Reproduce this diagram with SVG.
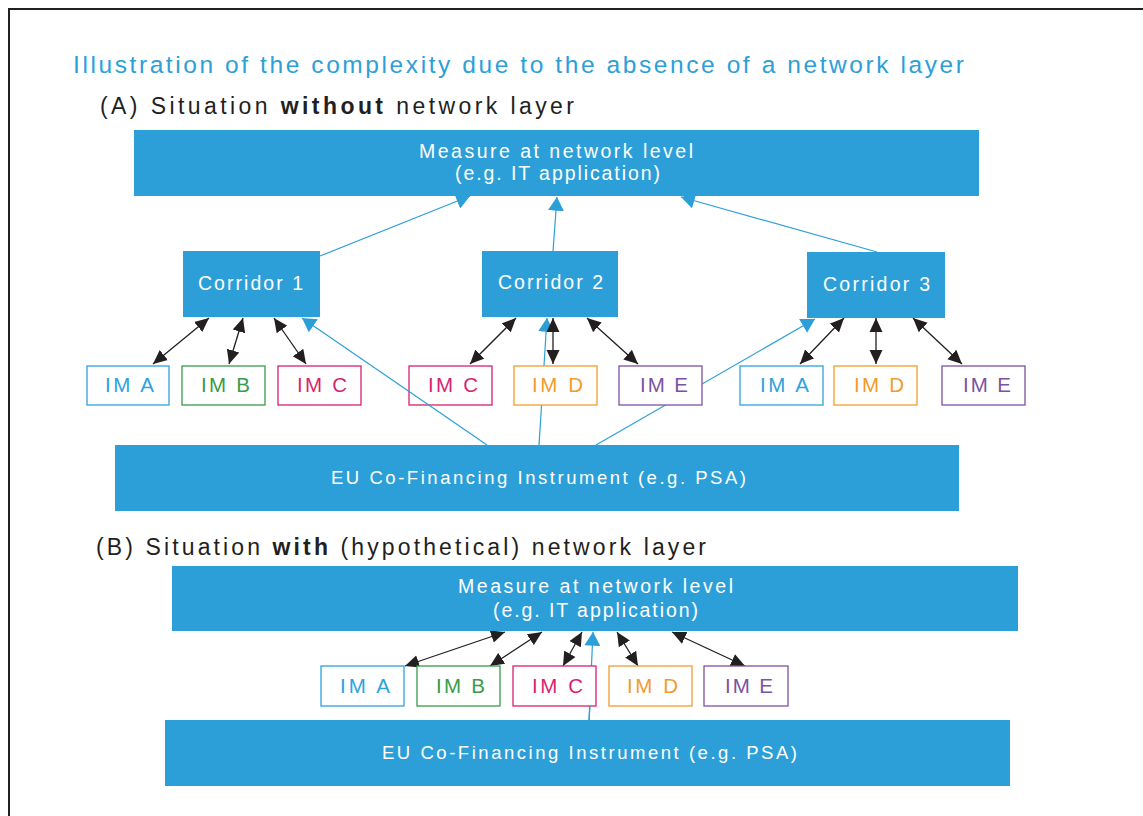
<svg xmlns="http://www.w3.org/2000/svg" width="1143" height="816" viewBox="0 0 1143 816">
<defs>
<style>
text{font-family:"Liberation Sans",Arial,sans-serif}
.blk{fill:#2c9fd9}
.wt{fill:#fff;font-size:19.5px}
.eu{fill:#fff;font-size:18.5px}
.im{fill:#fff;stroke-width:1.3}
.iml{font-size:20.5px}
.hd{fill:#231f20;font-size:23px}
.cb{stroke:#2c9fd9;stroke-width:1.2;fill:none;marker-end:url(#ab)}
.ck{stroke:#231f20;stroke-width:1.3;fill:none;marker-start:url(#ak);marker-end:url(#ak)}
.ra{stroke:#2ca3dd}.ta{fill:#2ca3dd}
.rb{stroke:#3a9b48}.tb{fill:#3a9b48}
.rc{stroke:#d91f72}.tc{fill:#d91f72}
.rd{stroke:#f39b2b}.td{fill:#f39b2b}
.re{stroke:#7b52a3}.te{fill:#7b52a3}
</style>
<marker id="ab" markerUnits="userSpaceOnUse" markerWidth="14" markerHeight="16" refX="12" refY="7" orient="auto" viewBox="0 0 12 14"><path d="M0,0L12,7L0,14z" fill="#2c9fd9"/></marker>
<marker id="ak" markerUnits="userSpaceOnUse" markerWidth="14" markerHeight="14" refX="13" refY="6" orient="auto-start-reverse" viewBox="0 0 13 12"><path d="M0,0L13,6L0,12z" fill="#231f20"/></marker>
</defs>
<rect width="1143" height="816" fill="#fff"/>
<path d="M9,816V9H1143" fill="none" stroke="#231f20" stroke-width="2"/>
<text x="73" y="73" font-size="24.5" fill="#2c9fd9" textLength="891" lengthAdjust="spacing">Illustration of the complexity due to the absence of a network layer</text>
<text class="hd" x="100" y="114" textLength="474" lengthAdjust="spacing">(A) Situation <tspan font-weight="bold">without</tspan> network layer</text>
<text class="hd" x="96" y="555" textLength="610" lengthAdjust="spacing">(B) Situation <tspan font-weight="bold">with</tspan> (hypothetical) network layer</text>
<g id="connectors">
<path class="cb" d="M320,256L470,196"/>
<path class="cb" d="M553,251L557,197"/>
<path class="cb" d="M877,252L681,197"/>
<path class="cb" d="M539,445L547,318"/>
<path class="cb" d="M596,445L815,319"/>
<path class="ck" d="M209,318L153,364"/>
<path class="ck" d="M243,318L229,364"/>
<path class="ck" d="M274,318L306,364"/>
<path class="ck" d="M516,318L470,364"/>
<path class="ck" d="M553,318L553,364"/>
<path class="ck" d="M587,318L638,364"/>
<path class="ck" d="M844,318L800,364"/>
<path class="ck" d="M876,318L876,364"/>
<path class="ck" d="M913,318L962,364"/>
<path class="ck" d="M505,632L405,666"/>
<path class="ck" d="M542,632L490,666"/>
<path class="ck" d="M582,632L563,666"/>
<path class="ck" d="M617,632L638,666"/>
<path class="ck" d="M672,632L745,666"/>
<path class="cb" d="M589,720L593,632"/>
</g>
<g id="measureA"><rect class="blk" x="134" y="130" width="845" height="66"/><text class="wt" x="419" y="158" textLength="274" lengthAdjust="spacing">Measure at network level</text><text class="wt" x="455" y="180" textLength="205" lengthAdjust="spacing">(e.g. IT application)</text></g>
<g id="corridor1"><rect class="blk" x="183" y="251" width="137" height="66"/><text class="wt" x="198" y="290" textLength="105" lengthAdjust="spacing">Corridor 1</text></g>
<g id="corridor2"><rect class="blk" x="482" y="251" width="136" height="66"/><text class="wt" x="498" y="289" textLength="105" lengthAdjust="spacing">Corridor 2</text></g>
<g id="corridor3"><rect class="blk" x="807" y="252" width="138" height="66"/><text class="wt" x="823" y="291" textLength="107" lengthAdjust="spacing">Corridor 3</text></g>
<g id="a_imA"><rect class="im ra" x="87" y="366" width="82" height="39"/><text class="iml ta" x="105" y="392" textLength="49" lengthAdjust="spacing">IM A</text></g>
<g id="a_imB"><rect class="im rb" x="182" y="366" width="83" height="39"/><text class="iml tb" x="201" y="392" textLength="49" lengthAdjust="spacing">IM B</text></g>
<g id="a_imC1"><rect class="im rc" x="278" y="366" width="83" height="39"/><text class="iml tc" x="297" y="392" textLength="50" lengthAdjust="spacing">IM C</text></g>
<g id="a_imC2"><rect class="im rc" x="409" y="366" width="83" height="39"/><text class="iml tc" x="428" y="392" textLength="50" lengthAdjust="spacing">IM C</text></g>
<g id="a_imD1"><rect class="im rd" x="514" y="366" width="83" height="39"/><text class="iml td" x="532" y="392" textLength="51" lengthAdjust="spacing">IM D</text></g>
<g id="a_imE1"><rect class="im re" x="619" y="366" width="83" height="39"/><text class="iml te" x="640" y="392" textLength="48" lengthAdjust="spacing">IM E</text></g>
<g id="a_imA2"><rect class="im ra" x="740" y="366" width="83" height="39"/><text class="iml ta" x="760" y="392" textLength="49" lengthAdjust="spacing">IM A</text></g>
<g id="a_imD2"><rect class="im rd" x="834" y="366" width="83" height="39"/><text class="iml td" x="854" y="392" textLength="50" lengthAdjust="spacing">IM D</text></g>
<g id="a_imE2"><rect class="im re" x="942" y="366" width="83" height="39"/><text class="iml te" x="963" y="392" textLength="48" lengthAdjust="spacing">IM E</text></g>
<path class="cb" d="M487,445L302,318"/>
<g id="euA"><rect class="blk" x="115" y="445" width="844" height="66"/><text class="eu" x="331" y="484" textLength="415" lengthAdjust="spacing">EU Co-Financing Instrument (e.g. PSA)</text></g>
<g id="measureB"><rect class="blk" x="172" y="566" width="846" height="65"/><text class="wt" x="458" y="593" textLength="275" lengthAdjust="spacing">Measure at network level</text><text class="wt" x="493" y="617" textLength="205" lengthAdjust="spacing">(e.g. IT application)</text></g>
<g id="b_imA"><rect class="im ra" x="321" y="666" width="83" height="40"/><text class="iml ta" x="340" y="693" textLength="50" lengthAdjust="spacing">IM A</text></g>
<g id="b_imB"><rect class="im rb" x="417" y="666" width="83" height="40"/><text class="iml tb" x="436" y="693" textLength="49" lengthAdjust="spacing">IM B</text></g>
<g id="b_imC"><rect class="im rc" x="513" y="666" width="83" height="40"/><text class="iml tc" x="532" y="693" textLength="51" lengthAdjust="spacing">IM C</text></g>
<g id="b_imD"><rect class="im rd" x="609" y="666" width="83" height="40"/><text class="iml td" x="627" y="693" textLength="51" lengthAdjust="spacing">IM D</text></g>
<g id="b_imE"><rect class="im re" x="704" y="666" width="84" height="40"/><text class="iml te" x="725" y="693" textLength="48" lengthAdjust="spacing">IM E</text></g>
<path d="M589,720L590,706" stroke="#2c9fd9" stroke-width="1.2"/>
<g id="euB"><rect class="blk" x="165" y="720" width="845" height="66"/><text class="eu" x="382" y="759" textLength="415" lengthAdjust="spacing">EU Co-Financing Instrument (e.g. PSA)</text></g>
</svg>
